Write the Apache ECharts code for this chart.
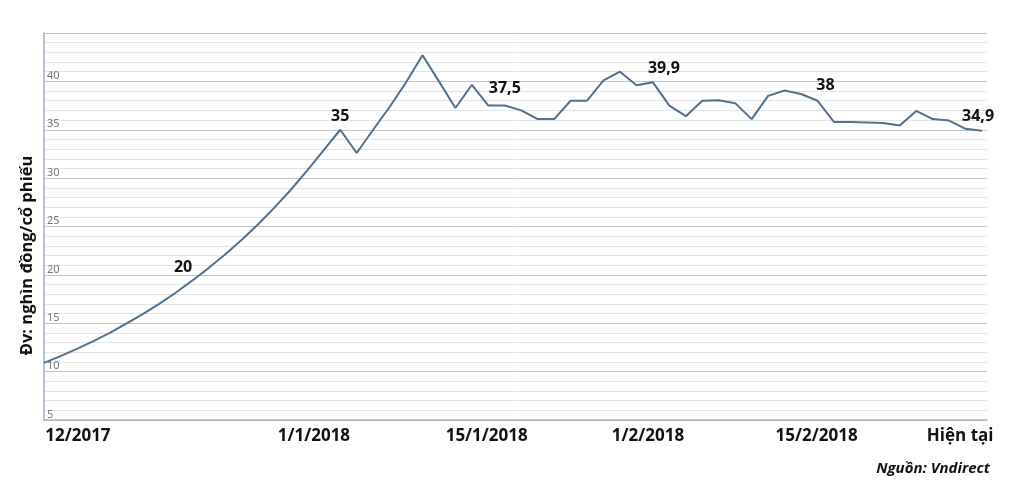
<!DOCTYPE html>
<html><head><meta charset="utf-8">
<script src="https://cdn.jsdelivr.net/npm/echarts@6/dist/echarts.min.js"></script>
<style>html,body{margin:0;padding:0;background:#fff}#c{width:1011px;height:496px}</style>
</head><body><div id="c"></div>
<script>
// Share price (thousand VND / share), one value per plotted step
const prices = [
  10.9, 11.6, 12.35, 13.15, 14.0, 14.95, 15.95, 17.0, 18.15, 19.4,
  20.7, 22.1, 23.6, 25.2, 26.95, 28.8, 30.8, 32.9, 35.0, 32.6,
  35.0, 37.35, 39.9, 42.7, 40.0, 37.25, 39.65, 37.5, 37.5, 37.0,
  36.1, 36.1, 38.0, 38.0, 40.1, 41.0, 39.6, 39.9, 37.5, 36.4,
  38.0, 38.05, 37.75, 36.1, 38.5, 39.05, 38.7, 38.0, 35.8, 35.8,
  35.75, 35.7, 35.45, 36.95, 36.1, 35.95, 35.1, 34.9
];
// x tick labels and the step positions they sit at
const xTickPos = [2.06, 16.4, 26.9, 36.7, 46.95, 55.67];
const xTickLabels = ['12/2017', '1/1/2018', '15/1/2018', '1/2/2018', '15/2/2018', 'Hiện tại'];
// y tick labels
const yTickLabels = [5, 10, 15, 20, 25, 30, 35, 40];
// annotations: step index and text
const noteIdx = [9, 18, 28, 37, 47, 57];
const noteText = ['20', '35', '37,5', '39,9', '38', '34,9'];

const noteOffsets = [[-9, -13], [0, -13], [0, -17], [11, -14], [8, -15], [-4, -14]];

const chart = echarts.init(document.getElementById('c'), null, {renderer: 'canvas'});
chart.setOption({
  animation: false,
  backgroundColor: '#ffffff',
  grid: {left: 44, right: 24, top: 33, bottom: 76, containLabel: false},
  title: {
    text: 'Nguồn: Vndirect', right: 16, top: 456,
    textStyle: {fontFamily: 'Open Sans', fontStyle: 'italic', fontWeight: 'bold', fontSize: 15, color: '#111'}
  },
  xAxis: {
    type: 'value', min: 0, max: 57.3,
    axisLine: {show: true, lineStyle: {color: '#b3b3b3', width: 1.5}},
    axisTick: {show: false},
    splitLine: {show: false},
    axisLabel: {
      customValues: xTickPos,
      formatter: function (v) {
        const k = xTickPos.findIndex(p => Math.abs(p - v) < 1e-6);
        return k >= 0 ? xTickLabels[k] : '';
      },
      margin: 8,
      fontFamily: 'Open Sans', fontWeight: 'bold', fontSize: 17, color: '#111'
    }
  },
  yAxis: {
    type: 'value', min: 5, max: 45, interval: 5,
    name: 'Đv: nghìn đồng/cổ phiếu', nameLocation: 'middle', nameGap: 7,
    nameTextStyle: {fontFamily: 'Open Sans', fontWeight: 'bold', fontSize: 16.5, color: '#111', padding: [0, 58, 0, 0]},
    axisLine: {show: true, lineStyle: {color: '#b7c3d2', width: 2}},
    axisTick: {show: false},
    axisLabel: {
      inside: true, margin: 3, verticalAlign: 'bottom',
      formatter: function (v) { return yTickLabels.indexOf(v) >= 0 ? String(v) : ''; },
      fontFamily: 'Noto Sans', fontSize: 11, color: '#777'
    },
    splitLine: {show: true, lineStyle: {color: '#c4c4c4', width: 1}},
    minorTick: {show: false, splitNumber: 5},
    minorSplitLine: {show: true, lineStyle: {color: '#e4e4e4', width: 1}}
  },
  series: [{
    type: 'line',
    data: prices.map((v, i) => [i, v]),
    symbol: 'none',
    lineStyle: {color: '#51708f', width: 2},
    itemStyle: {color: '#51708f'},
    markPoint: {
      silent: true,
      symbol: 'circle', symbolSize: 1,
      itemStyle: {color: 'rgba(0,0,0,0)'},
      data: noteIdx.map((idx, k) => ({
        coord: [idx, prices[idx]],
        label: {
          show: true, position: 'inside', formatter: noteText[k], offset: noteOffsets[k],
          fontFamily: 'Open Sans', fontWeight: 'bold', fontSize: 16, color: '#111'
        }
      }))
    }
  }]
});
</script>
</body></html>
